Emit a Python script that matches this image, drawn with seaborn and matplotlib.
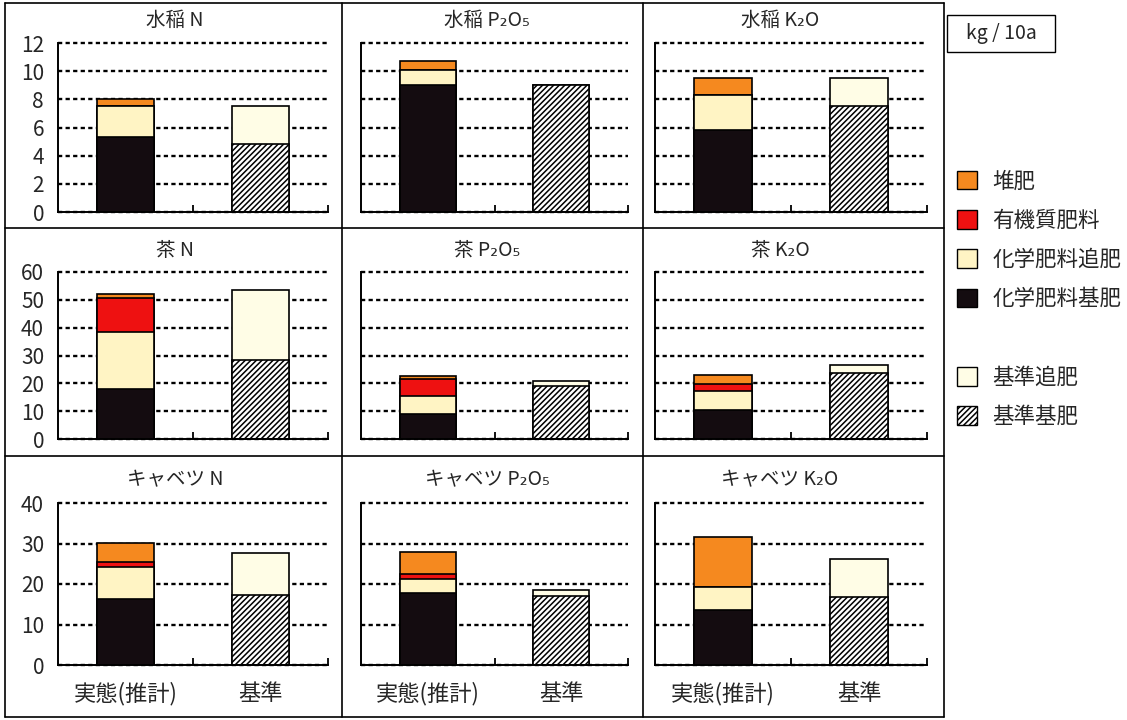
import numpy as np
import pandas as pd
import matplotlib
matplotlib.use("Agg")
import matplotlib.pyplot as plt
import seaborn as sns
from matplotlib.patches import Patch, Rectangle
from matplotlib.lines import Line2D

# 作物・成分・区分
crops = ["水稲", "茶", "キャベツ"]
nutrients = ["N", "P₂O₅", "K₂O"]
categories = ["実態(推計)", "基準"]

# 実態(推計)  kg/10a  並び: 水稲 N,P,K / 茶 N,P,K / キャベツ N,P,K
chem_base = [5.3, 9.0, 5.8, 18.0, 9.0, 10.3, 16.3, 17.8, 13.6]
chem_top = [2.2, 1.1, 2.5, 20.5, 6.4, 6.8, 7.8, 3.4, 5.7]
organic = [0.0, 0.0, 0.0, 12.2, 6.0, 2.5, 1.3, 1.2, 0.0]
compost = [0.5, 0.6, 1.2, 1.3, 1.4, 3.3, 4.8, 5.6, 12.4]

# 基準
std_base = [4.8, 9.0, 7.5, 28.4, 19.0, 23.7, 17.4, 17.0, 16.9]
std_top = [2.7, 0.0, 2.0, 25.3, 1.8, 2.8, 10.3, 1.6, 9.3]

ymax = [12, 60, 40]
ystep = [2, 10, 10]

legend_labels = ["堆肥", "有機質肥料", "化学肥料追肥", "化学肥料基肥", "基準追肥", "基準基肥"]

# 色
c_compost = "#F5891F"
c_organic = "#EE1111"
c_chem_top = "#FFF4C4"
c_chem_base = "#140C10"
c_std_top = "#FFFDE6"
act_colors = [c_chem_base, c_chem_top, c_organic, c_compost]
HATCH = "//////"

sns.set_theme(style="white")
plt.rcParams["font.family"] = ["Noto Sans CJK JP", "DejaVu Sans"]
plt.rcParams["hatch.linewidth"] = 1.1

W, H = 1127, 720
fig = plt.figure(figsize=(W / 100, H / 100), dpi=100)


def frac(x0, y0, x1, y1):
    return [x0 / W, 1 - y1 / H, (x1 - x0) / W, (y1 - y0) / H]


col_px = [(58, 328), (361, 628), (655, 927)]
row_px = [(43, 212), (272, 439), (503, 665)]
title_x = [175, 487, 780]
title_y = [20, 250, 480]

bar_kw = dict(order=categories, width=0.42, edgecolor="black", linewidth=1.2,
              errorbar=None, saturation=1)

for r in range(3):
    for c in range(3):
        i = r * 3 + c
        ax = fig.add_axes(frac(col_px[c][0], row_px[r][0], col_px[c][1], row_px[r][1]))

        # 実態: 上から順に累積値を重ねる
        act = np.cumsum([chem_base[i], chem_top[i], organic[i], compost[i]])
        for k in reversed(range(4)):
            sns.barplot(x=[categories[0]], y=[act[k]], color=act_colors[k], ax=ax, **bar_kw)

        # 基準
        std = np.cumsum([std_base[i], std_top[i]])
        sns.barplot(x=[categories[1]], y=[std[1]], color=c_std_top, ax=ax, **bar_kw)
        sns.barplot(x=[categories[1]], y=[std[0]], color="white", hatch=HATCH, ax=ax, **bar_kw)

        ax.set_xlim(-0.5, 1.5)
        ax.set_ylim(0, ymax[r])
        ax.set_yticks(np.arange(0, ymax[r] + 1, ystep[r]))
        ax.set_xlabel("")
        ax.set_ylabel("")
        ax.set_axisbelow(True)
        ax.yaxis.grid(True, color="black", linestyle=(0, (1.8, 1.4)), linewidth=1.7)
        for gl in ax.get_ygridlines():
            gl.set_clip_on(False)

        sns.despine(ax=ax)
        for s in ["left", "bottom"]:
            ax.spines[s].set_color("black")
            ax.spines[s].set_linewidth(1.4)

        ax.tick_params(axis="y", length=0, pad=10, labelsize=15, labelleft=(c == 0))
        ax.tick_params(axis="x", which="major", length=0, pad=12, labelsize=16,
                       labelbottom=(r == 2))
        ax.set_xticks([0.5, 1.5], minor=True)
        ax.tick_params(axis="x", which="minor", bottom=True, direction="in",
                       length=5, width=1.3, color="black")

        fig.text(title_x[c] / W, 1 - title_y[r] / H, f"{crops[r]} {nutrients[c]}",
                 ha="center", va="center", fontsize=14)

# パネルの枠線
def hline(y, x0, x1):
    fig.add_artist(Line2D([x0 / W, x1 / W], [1 - y / H, 1 - y / H], color="black",
                          linewidth=1.2, transform=fig.transFigure))


def vline(x, y0, y1):
    fig.add_artist(Line2D([x / W, x / W], [1 - y0 / H, 1 - y1 / H], color="black",
                          linewidth=1.2, transform=fig.transFigure))


for y in [3, 228, 456, 717]:
    hline(y, 5, 944)
for x in [5, 342, 643, 944]:
    vline(x, 3, 717)

# 単位
fig.add_artist(Rectangle((947 / W, 1 - 52 / H), 108 / W, 37 / H, transform=fig.transFigure,
                         fill=False, edgecolor="black", linewidth=1.0))
fig.text(1001 / W, 1 - 34 / H, "kg / 10a", ha="center", va="center", fontsize=14)

# 凡例
handles = [
    Patch(facecolor=c_compost, edgecolor="black", linewidth=1),
    Patch(facecolor=c_organic, edgecolor="black", linewidth=1),
    Patch(facecolor=c_chem_top, edgecolor="black", linewidth=1),
    Patch(facecolor=c_chem_base, edgecolor="black", linewidth=1),
    Patch(facecolor="none", edgecolor="none"),
    Patch(facecolor=c_std_top, edgecolor="black", linewidth=1),
    Patch(facecolor="white", edgecolor="black", linewidth=1, hatch=HATCH),
]
labels = legend_labels[:4] + [""] + legend_labels[4:]
fig.legend(handles, labels, loc="upper left", bbox_to_anchor=(948 / W, 1 - 162 / H),
           frameon=False, fontsize=15.5, handlelength=0.95, handleheight=0.95,
           labelspacing=0.8, handletextpad=0.7, borderaxespad=0)

fig.savefig("out.png", dpi=100)
